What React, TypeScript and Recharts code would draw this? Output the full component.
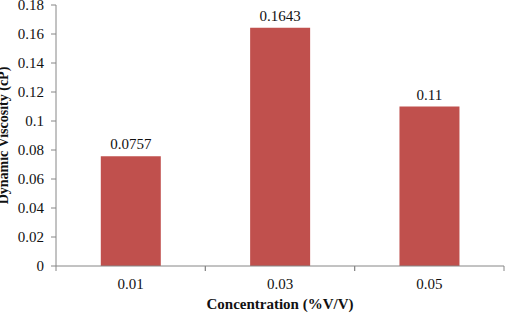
import { Bar, BarChart, LabelList, XAxis, YAxis } from "recharts";

const concentrations = ["0.01", "0.03", "0.05"];
const viscosity = [0.0757, 0.1643, 0.11];
const yTicks = [0, 0.02, 0.04, 0.06, 0.08, 0.1, 0.12, 0.14, 0.16, 0.18];

const data = concentrations.map((c, i) => ({ conc: c, value: viscosity[i] }));

const W = 505;
const H = 313;
const M = { top: 5, right: 1, bottom: 0, left: 0 };
const Y_W = 56;
const X_H = 47;
const AXIS = "#868686";
const FONT = "'Liberation Serif', 'Times New Roman', serif";
const BAND = (W - M.left - M.right - Y_W) / concentrations.length;

function XTick(props: any) {
  const { x, y, payload } = props;
  const top = y - 8;
  return (
    <g>
      <line x1={x - BAND / 2} x2={x - BAND / 2} y1={top} y2={top + 5} stroke={AXIS} />
      <line x1={x + BAND / 2} x2={x + BAND / 2} y1={top} y2={top + 5} stroke={AXIS} />
      <text x={x} y={top + 23} textAnchor="middle" fontSize={15} fill="#111" fontFamily={FONT}>
        {payload.value}
      </text>
    </g>
  );
}

function YTitle(props: any) {
  const { viewBox } = props;
  const cy = M.top + (H - M.top - X_H) / 2;
  return (
    <text
      transform={`translate(${viewBox.x + 8}, ${cy}) rotate(-90)`}
      textAnchor="middle"
      fontSize={14}
      fontWeight="bold"
      fill="#111"
      fontFamily={FONT}
    >
      Dynamic Viscosity (cP)
    </text>
  );
}

export default function App() {
  return (
    <div style={{ position: "absolute", left: 0, top: 0, width: W, height: H, background: "#fff" }}>
      <BarChart width={W} height={H} data={data} margin={M} barCategoryGap="30%">
        <XAxis
          dataKey="conc"
          height={X_H}
          tickLine={false}
          axisLine={{ stroke: AXIS }}
          tick={<XTick />}
          interval={0}
          label={{
            value: "Concentration (%V/V)",
            position: "insideBottom",
            offset: 4,
            fontSize: 15,
            fontWeight: "bold",
            fill: "#111",
            fontFamily: FONT,
          }}
        />
        <YAxis
          width={Y_W}
          domain={[0, 0.18]}
          ticks={yTicks}
          interval={0}
          tickSize={5}
          tickMargin={7}
          axisLine={{ stroke: AXIS }}
          tickLine={{ stroke: AXIS }}
          tick={{ fontSize: 15, fill: "#111", fontFamily: FONT }}
          label={<YTitle />}
        />
        <Bar dataKey="value" fill="#C0504D" isAnimationActive={false}>
          <LabelList
            dataKey="value"
            position="top"
            offset={7}
            fontSize={15}
            fill="#111"
            fontFamily={FONT}
          />
        </Bar>
      </BarChart>
    </div>
  );
}
